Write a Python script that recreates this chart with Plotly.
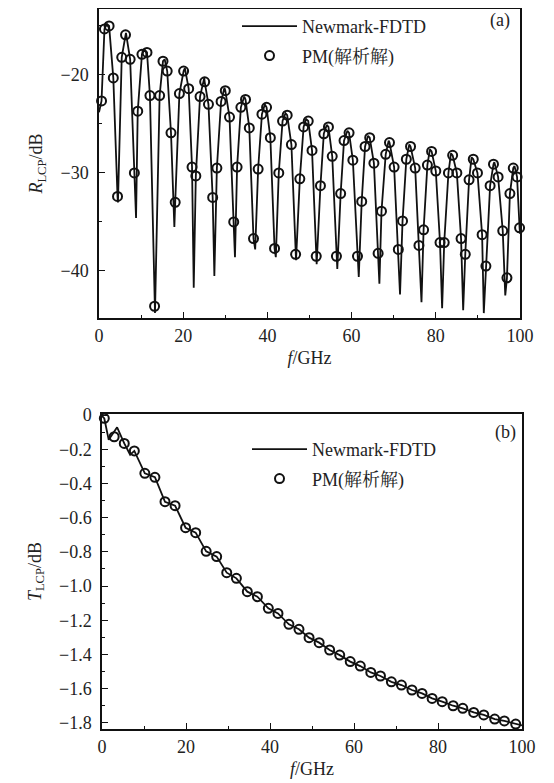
import plotly.graph_objects as go

# ---- panel (a): reflection R_LCP (dB) versus f (GHz) ----
pm_f = [0.6, 1.3, 2.4, 3.4, 4.4, 5.4, 6.3, 7.4, 8.4, 9.2,
        10.2, 11.4, 12.1, 13.2, 14.4, 15.2, 16.2, 17.1, 18.1, 19.1,
        20.1, 21.3, 22.1, 23.0, 24.0, 25.1, 26.0, 27.0, 28.0, 29.0,
        30.0, 31.0, 32.0, 32.8, 33.7, 34.8, 35.7, 36.7, 37.8, 38.7,
        39.8, 40.7, 41.7, 42.7, 43.6, 44.7, 45.7, 46.7, 47.7, 48.6,
        49.7, 50.6, 51.6, 52.6, 53.4, 54.5, 55.4, 56.4, 57.4, 58.2,
        59.4, 60.3, 61.4, 62.4, 63.2, 64.3, 65.3, 66.3, 67.1, 68.1,
        69.0, 70.1, 71.1, 72.1, 73.0, 74.0, 75.1, 76.0, 77.1, 78.0,
        79.0, 80.0, 81.0, 82.0, 83.0, 84.0, 85.0, 86.0, 87.0, 87.9,
        88.9, 89.9, 91.0, 91.9, 92.9, 93.7, 94.8, 95.9, 96.9, 97.6,
        98.4, 99.3, 99.9]
pm_r = [-22.65, -15.3, -15.0, -20.3, -32.4, -18.2, -15.9, -18.4, -30.0, -23.7,
        -17.9, -17.7, -22.1, -43.6, -22.1, -18.6, -19.6, -25.9, -33.0, -21.9,
        -19.6, -21.4, -29.4, -30.3, -22.2, -20.7, -23.0, -32.5, -29.5, -22.7,
        -21.6, -24.3, -35.0, -29.4, -23.3, -22.5, -25.4, -36.7, -29.6, -24.0,
        -23.3, -26.4, -37.7, -30.0, -24.7, -24.1, -27.1, -38.3, -30.6, -25.3,
        -24.7, -27.7, -38.5, -31.3, -26.0, -25.3, -28.3, -38.5, -32.1, -26.7,
        -25.9, -28.7, -38.5, -32.9, -27.3, -26.4, -29.0, -38.2, -33.9, -28.1,
        -26.9, -29.4, -37.8, -34.9, -28.6, -27.3, -29.5, -37.4, -35.8, -29.2,
        -27.8, -29.8, -37.1, -37.1, -30.0, -28.2, -30.0, -36.7, -38.3, -30.7,
        -28.6, -30.0, -36.3, -39.5, -31.3, -29.1, -30.4, -35.9, -40.7, -32.1,
        -29.5, -30.4, -35.6]

# Newmark-FDTD curve: rounded maxima and sharp notches
peak_f = [1.9, 6.4, 10.8, 15.6, 20.4, 25.0, 29.8, 34.5, 39.4, 44.3, 49.2,
          54.1, 59.0, 63.9, 68.8, 73.7, 78.6, 83.6, 88.5, 93.9, 98.7]
peak_r = [-14.8, -15.7, -17.4, -18.4, -19.3, -20.3, -21.3, -22.2, -23.0, -23.9, -24.5,
          -25.1, -25.7, -26.2, -26.7, -27.1, -27.6, -28.0, -28.4, -28.9, -29.3]
notch_f = [4.5, 8.8, 13.3, 17.9, 22.5, 27.4, 32.3, 37.1, 42.0, 46.8,
           51.7, 56.6, 61.7, 66.6, 71.5, 76.6, 81.5, 86.5, 91.4, 96.5]
notch_r = [-33.0, -34.6, -44.3, -35.5, -41.7, -40.5, -38.6, -37.8, -38.6, -38.9,
           -39.3, -39.8, -40.6, -41.3, -42.4, -43.2, -43.8, -44.0, -44.3, -42.5]
ends_f = [0.0, 100.0]
ends_r = [-23.8, -36.2]

# ---- panel (b): transmission T_LCP (dB) versus f (GHz) ----
pm_tf = [0.55, 2.9, 5.3, 7.7, 10.2, 12.6, 15.0, 17.4, 19.9, 22.3,
         24.8, 27.3, 29.7, 32.0, 34.6, 37.0, 39.6, 41.9, 44.5, 46.9,
         49.3, 51.7, 54.2, 56.6, 59.1, 61.5, 64.0, 66.3, 68.9, 71.3,
         73.8, 76.2, 78.6, 81.0, 83.6, 85.9, 88.5, 90.9, 93.5, 95.8, 98.5]
pm_t = [-0.019, -0.127, -0.166, -0.21, -0.341, -0.364, -0.507, -0.53, -0.659, -0.688,
        -0.797, -0.828, -0.922, -0.955, -1.033, -1.062, -1.13, -1.16, -1.224, -1.253,
        -1.302, -1.331, -1.374, -1.404, -1.442, -1.468, -1.505, -1.526, -1.56, -1.579,
        -1.608, -1.628, -1.657, -1.676, -1.70, -1.715, -1.739, -1.754, -1.778, -1.789, -1.807]
fdtd_head_f = [0.0, 0.55, 1.6, 3.6, 5.3, 6.7]
fdtd_head_t = [-0.005, -0.02, -0.145, -0.072, -0.166, -0.232]
fdtd_tail_f = [100.0]
fdtd_tail_t = [-1.815]

t_tickvals = [0.0, -0.2, -0.4, -0.6, -0.8, -1.0, -1.2, -1.4, -1.6, -1.8]
t_ticktext = ["0", "\u22120.2", "\u22120.4", "\u22120.6", "\u22120.8",
              "\u22121.0", "\u22121.2", "\u22121.4", "\u22121.6", "\u22121.8"]

LEGEND_A = "Newmark-FDTD"
LEGEND_B = "PM(解析解)"

SERIF = "Liberation Serif, Noto Serif CJK SC, Noto Sans CJK SC, serif"
INK = "#111111"
TXT = "#222222"

# curve (a) passes through the analytic points plus the read maxima/notches
line_a = sorted(zip(pm_f + peak_f + notch_f + ends_f, pm_r + peak_r + notch_r + ends_r))
line_a_f = [p[0] for p in line_a]
line_a_r = [p[1] for p in line_a]
line_b_f = fdtd_head_f + pm_tf[3:] + fdtd_tail_f
line_b_t = fdtd_head_t + pm_t[3:] + fdtd_tail_t

fig = go.Figure()
line_style = dict(color=INK, width=1.8)
marker_style = dict(symbol="circle-open", size=9, color=INK, line=dict(width=2, color=INK))

fig.add_scatter(x=line_a_f, y=line_a_r, mode="lines", name=LEGEND_A, line=line_style,
                xaxis="x", yaxis="y", legend="legend", legendgroup="a1", cliponaxis=False)
fig.add_scatter(x=pm_f, y=pm_r, mode="markers", name=LEGEND_B, marker=marker_style,
                xaxis="x", yaxis="y", legend="legend", legendgroup="a2", cliponaxis=False)
fig.add_scatter(x=line_b_f, y=line_b_t, mode="lines", name=LEGEND_A, line=line_style,
                xaxis="x2", yaxis="y2", legend="legend2", legendgroup="b1", cliponaxis=False)
fig.add_scatter(x=pm_tf, y=pm_t, mode="markers", name=LEGEND_B, marker=marker_style,
                xaxis="x2", yaxis="y2", legend="legend2", legendgroup="b2", cliponaxis=False)

# the page body has an 8px margin, so the figure is laid out 8px smaller
OFF = 8
W, H = 554 - OFF, 783 - OFF
ML, MR, MT, MB = 22, 14, 0, 46
PW, PH = W - ML - MR, H - MT - MB


def xp(px):
    # window x pixel -> paper fraction
    return (px - OFF - ML) / PW


def yp(py):
    # window y pixel -> paper fraction
    return (H - MB - (py - OFF)) / PH


tick_font = dict(family=SERIF, size=18, color=TXT)
title_font = dict(family=SERIF, size=18, color=TXT)
common = dict(
    showline=True, linecolor=INK, linewidth=1.5, mirror=True,
    ticks="inside", ticklen=6, tickwidth=1.3, tickcolor=INK,
    showgrid=False, zeroline=False, tickfont=tick_font, automargin=False,
)
minor_x = dict(dtick=10, ticks="inside", ticklen=3.5, tickcolor=INK)

fig.update_layout(
    width=W, height=H,
    margin=dict(l=ML, r=MR, t=MT, b=MB),
    paper_bgcolor="white", plot_bgcolor="white",
    font=dict(family=SERIF, size=18, color=TXT),
    xaxis=dict(domain=[xp(99), xp(520)], anchor="y", range=[0, 100], dtick=20, tick0=0,
               minor=minor_x, ticklabelstandoff=1,
               title=dict(text="<i>f</i>/GHz", standoff=6, font=title_font),
               **common),
    yaxis=dict(domain=[yp(318), yp(9)], anchor="x", range=[-44.8, -13.27], dtick=10, tick0=-40,
               minor=dict(dtick=5, ticks="inside", ticklen=3.5, tickcolor=INK),
               ticklabelstandoff=5,
               title=dict(text="<i>R</i><sub>LCP</sub>/dB", standoff=13, font=title_font),
               **common),
    xaxis2=dict(domain=[xp(102), xp(522)], anchor="y2", range=[0, 100], dtick=20, tick0=0,
                minor=minor_x, ticklabelstandoff=1,
                title=dict(text="<i>f</i>/GHz", standoff=6, font=title_font),
                **common),
    yaxis2=dict(domain=[yp(729), yp(414)], anchor="x2", range=[-1.836, 0.006],
                tickmode="array", tickvals=t_tickvals, ticktext=t_ticktext,
                minor=dict(tickmode="linear", dtick=0.1, tick0=0, ticks="inside",
                           ticklen=3.5, tickcolor=INK),
                ticklabelstandoff=5,
                title=dict(text="<i>T</i><sub>LCP</sub>/dB", standoff=13, font=title_font),
                **common),
    legend=dict(x=xp(237), y=yp(8), xanchor="left", yanchor="top",
                bgcolor="rgba(0,0,0,0)", borderwidth=0, itemwidth=55,
                traceorder="grouped", tracegroupgap=3,
                font=dict(family=SERIF, size=18, color=TXT)),
    legend2=dict(x=xp(247), y=yp(431), xanchor="left", yanchor="top",
                 bgcolor="rgba(0,0,0,0)", borderwidth=0, itemwidth=55,
                 traceorder="grouped", tracegroupgap=3,
                 font=dict(family=SERIF, size=18, color=TXT)),
    annotations=[
        dict(text="(a)", xref="paper", yref="paper", x=xp(500), y=yp(20),
             xanchor="center", yanchor="middle", showarrow=False, font=title_font),
        dict(text="(b)", xref="paper", yref="paper", x=xp(505), y=yp(432),
             xanchor="center", yanchor="middle", showarrow=False, font=title_font),
    ],
)

fig.write_html("out.html")
